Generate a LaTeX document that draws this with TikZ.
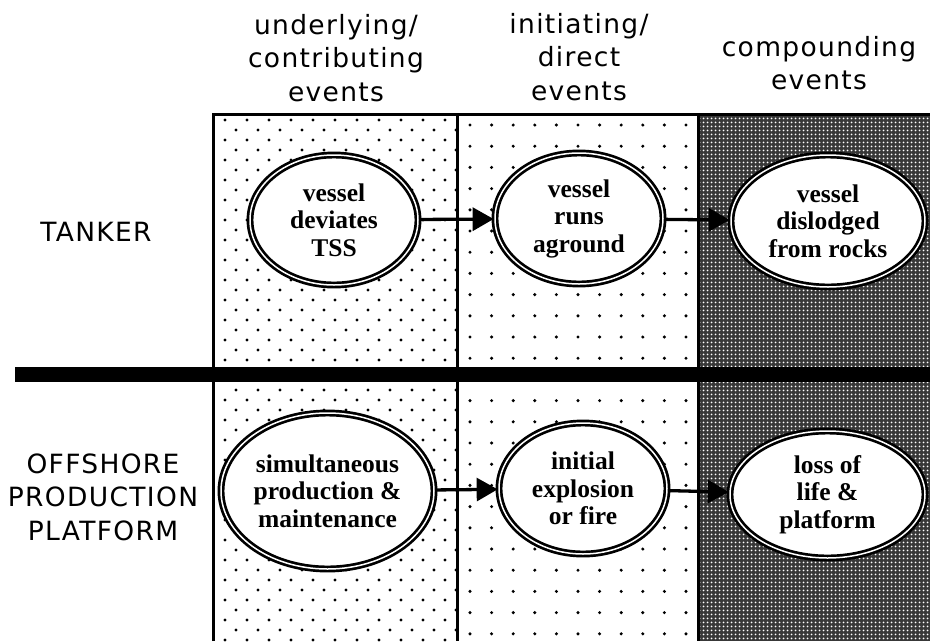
\documentclass[tikz,border=0pt]{standalone}
\usepackage{fontspec}
\setmainfont{Liberation Serif}
\newfontfamily\labelfont[LetterSpace=5]{DejaVu Sans}
\usetikzlibrary{shapes.geometric, arrows.meta, patterns.meta}

\begin{document}
\begin{tikzpicture}[x=1pt, y=-1pt,
  evt/.style={ellipse, draw=black, line width=2.7pt, double=white,
    double distance=1.5pt, fill=white, inner sep=0pt, align=center,
    font=\bfseries\fontsize{25.5}{27.5}\selectfont},
  lbl/.style={align=center, inner sep=0pt,
    font=\labelfont\fontsize{26.5}{33.5}\selectfont},
  flow/.style={line width=3.3pt, -{Triangle[length=21pt, width=23pt]}},
  rule/.style={line width=3pt}
]
\useasboundingbox (0,0) rectangle (930,641);
\fill[white] (0,0) rectangle (930,641);

% column 1: dense staggered dots
\begin{scope}
  \clip (213,114) rectangle (457,641);
  \foreach \k in {0,...,52} {
    \pgfmathsetmacro\yy{120+10*\k}
    \pgfmathsetmacro\off{11*mod(\k,2)}
    \foreach \j in {0,...,10}
      \fill (225+\off+22*\j, \yy) circle[radius=1.6];
  }
\end{scope}

% column 2: sparse square grid of dots
\begin{scope}
  \clip (457,114) rectangle (698,641);
  \foreach \k in {0,...,24} {
    \pgfmathsetmacro\yy{125+21.2*\k}
    \foreach \j in {0,...,10}
      \fill (470+21.6*\j, \yy) circle[radius=1.7];
  }
\end{scope}

% column 3: dark screen
\fill[black!78] (698,114) rectangle (930,641);
\fill[pattern={Dots[radius=1.2pt, distance=4pt]}, pattern color=white]
  (700,114) rectangle (930,641);

% frame of the table
\draw[rule] (213,641) -- (213,114) -- (930,114);
\draw[rule] (457,114) -- (457,641);
\draw[rule] (698,114) -- (698,641);

% heavy separator between the two cases
\fill[black] (15,367) rectangle (930,382);

% column headings
\node[lbl] (h1) at (336,58) {underlying/\\contributing\\events};
\node[lbl] (h2) at (579,57) {initiating/\\direct\\events};
\node[lbl] (h3) at (819,63) {compounding\\events};

% row headings
\node[lbl] (r1) at (96,232) {TANKER};
\node[lbl] (r2) at (103,497) {OFFSHORE\\PRODUCTION\\PLATFORM};

% events
\node[evt, minimum width=168pt, minimum height=130pt] (e1) at (334,220) {vessel\\deviates\\TSS};
\node[evt, minimum width=168pt, minimum height=131pt] (e2) at (579,218.5) {vessel\\runs\\aground};
\node[evt, minimum width=194pt, minimum height=132pt] (e3) at (828,221) {vessel\\dislodged\\from rocks};
\node[evt, minimum width=213pt, minimum height=156pt] (e4) at (327.5,491) {simultaneous\\production \&\\maintenance};
\node[evt, minimum width=168pt, minimum height=131pt] (e5) at (583,488.5) {initial\\explosion\\or fire};
\node[evt, minimum width=195pt, minimum height=127pt] (e6) at (827.5,494.5) {loss of\\life \&\\platform};

% causal links
\draw[flow] (e1) -- (e2);
\draw[flow] (e2) -- (e3);
\draw[flow] (e4) -- (e5);
\draw[flow] (e5) -- (e6);
\end{tikzpicture}
\end{document}
